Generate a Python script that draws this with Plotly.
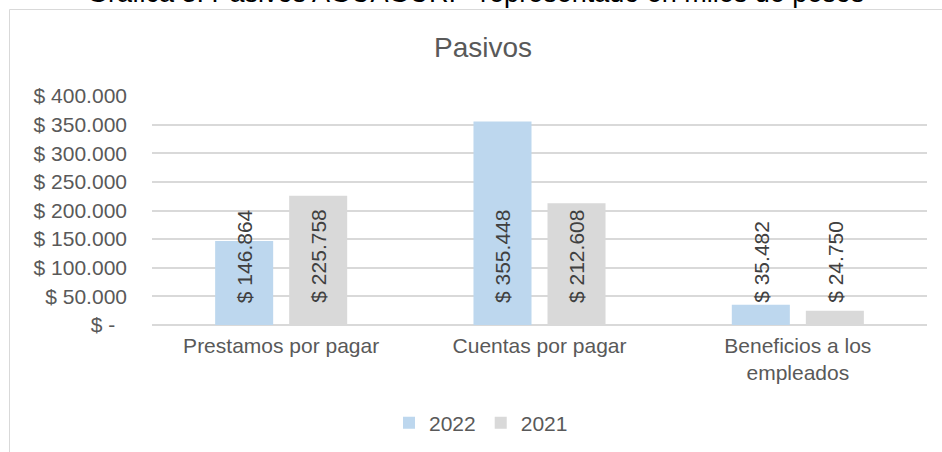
import plotly.graph_objects as go

categories = ["Prestamos por pagar", "Cuentas por pagar", "Beneficios a los<br>empleados"]
series_names = ["2022", "2021"]
values_2022 = [146864, 355448, 35482]
values_2021 = [225758, 212608, 24750]
series_colors = ["#BDD7EE", "#D9D9D9"]
tick_values = [0, 50000, 100000, 150000, 200000, 250000, 300000, 350000, 400000]
tick_labels = ["$ -\u00a0\u00a0", "$ 50.000", "$ 100.000", "$ 150.000", "$ 200.000",
               "$ 250.000", "$ 300.000", "$ 350.000", "$ 400.000"]
chart_title = "Pasivos"
caption = "Gráfica 3. Pasivos AGUAGURI - representado en miles de pesos"

FONT = "Liberation Sans, Arial, sans-serif"

W, H = 942, 452
PLOT_L, PLOT_R, PLOT_T, PLOT_B = 152, 927, 96, 325  # pixels
L, T = PLOT_L, PLOT_T
R, B = W - PLOT_R, H - PLOT_B
PW, PH = W - L - R, H - T - B


def px_x(p):
    return (p - L) / PW


def px_y(p):
    return (H - B - p) / PH


def fmt(v):
    return "$ " + f"{v:,}".replace(",", ".")


fig = go.Figure()
all_series = [values_2022, values_2021]
for name, vals, col in zip(series_names, all_series, series_colors):
    fig.add_trace(go.Bar(
        name=name, x=categories, y=vals, marker=dict(color=col, line=dict(width=0)),
        hoverinfo="skip",
    ))

# data labels, rotated, starting just above the base of each bar
offsets = [-37, 37]
for vals, off in zip(all_series, offsets):
    for cat, v in zip(categories, vals):
        fig.add_annotation(
            x=cat, y=0, xref="x", yref="y", text=fmt(v), textangle=-90,
            showarrow=False, yanchor="bottom", xanchor="center",
            xshift=off, yshift=20,
            font=dict(family=FONT, size=21, color="#404040"),
        )

# clipped caption above the chart frame
fig.add_annotation(
    x=px_x(475), y=px_y(10), xref="paper", yref="paper", text=caption,
    showarrow=False, xanchor="center", yanchor="bottom",
    font=dict(family=FONT, size=27, color="#000000"),
)

# chart frame
fig.add_shape(type="rect", xref="paper", yref="paper",
              x0=px_x(9.5), x1=px_x(1100), y0=px_y(9.5), y1=px_y(600),
              line=dict(color="#D9D9D9", width=1), layer="below")

fig.update_layout(
    width=W, height=H,
    margin=dict(l=L, r=R, t=T, b=B, autoexpand=False),
    paper_bgcolor="white", plot_bgcolor="white",
    barmode="group", bargap=0.427, bargroupgap=0.216,
    title=dict(text=chart_title, x=px_x(483), xref="paper", xanchor="center",
               y=1 - 47 / H, yref="container", yanchor="middle",
               font=dict(family=FONT, size=28, color="#595959")),
    font=dict(family=FONT, size=21, color="#595959"),
    legend=dict(orientation="h", x=px_x(481), y=px_y(423), xanchor="center",
                yanchor="middle", font=dict(family=FONT, size=21, color="#595959"),
                itemwidth=30, bgcolor="rgba(0,0,0,0)"),
    showlegend=True,
)
fig.update_yaxes(
    range=[0, 400000], tickvals=tick_values, ticktext=tick_labels,
    showgrid=True, gridcolor="#D9D9D9", gridwidth=1.5,
    zeroline=True, zerolinecolor="#D9D9D9", zerolinewidth=1.5,
    showline=False, ticks="", ticklabelstandoff=24,
    tickfont=dict(family=FONT, size=21, color="#595959"),
)
fig.update_xaxes(
    showgrid=False, showline=False, ticks="", zeroline=False,
    tickfont=dict(family=FONT, size=21, color="#595959"),
    tickangle=0, ticklabelstandoff=6,
)

fig.write_html("out.html", config={"displayModeBar": False},
               post_script="document.body.style.margin='0px';document.body.style.overflow='hidden';")
